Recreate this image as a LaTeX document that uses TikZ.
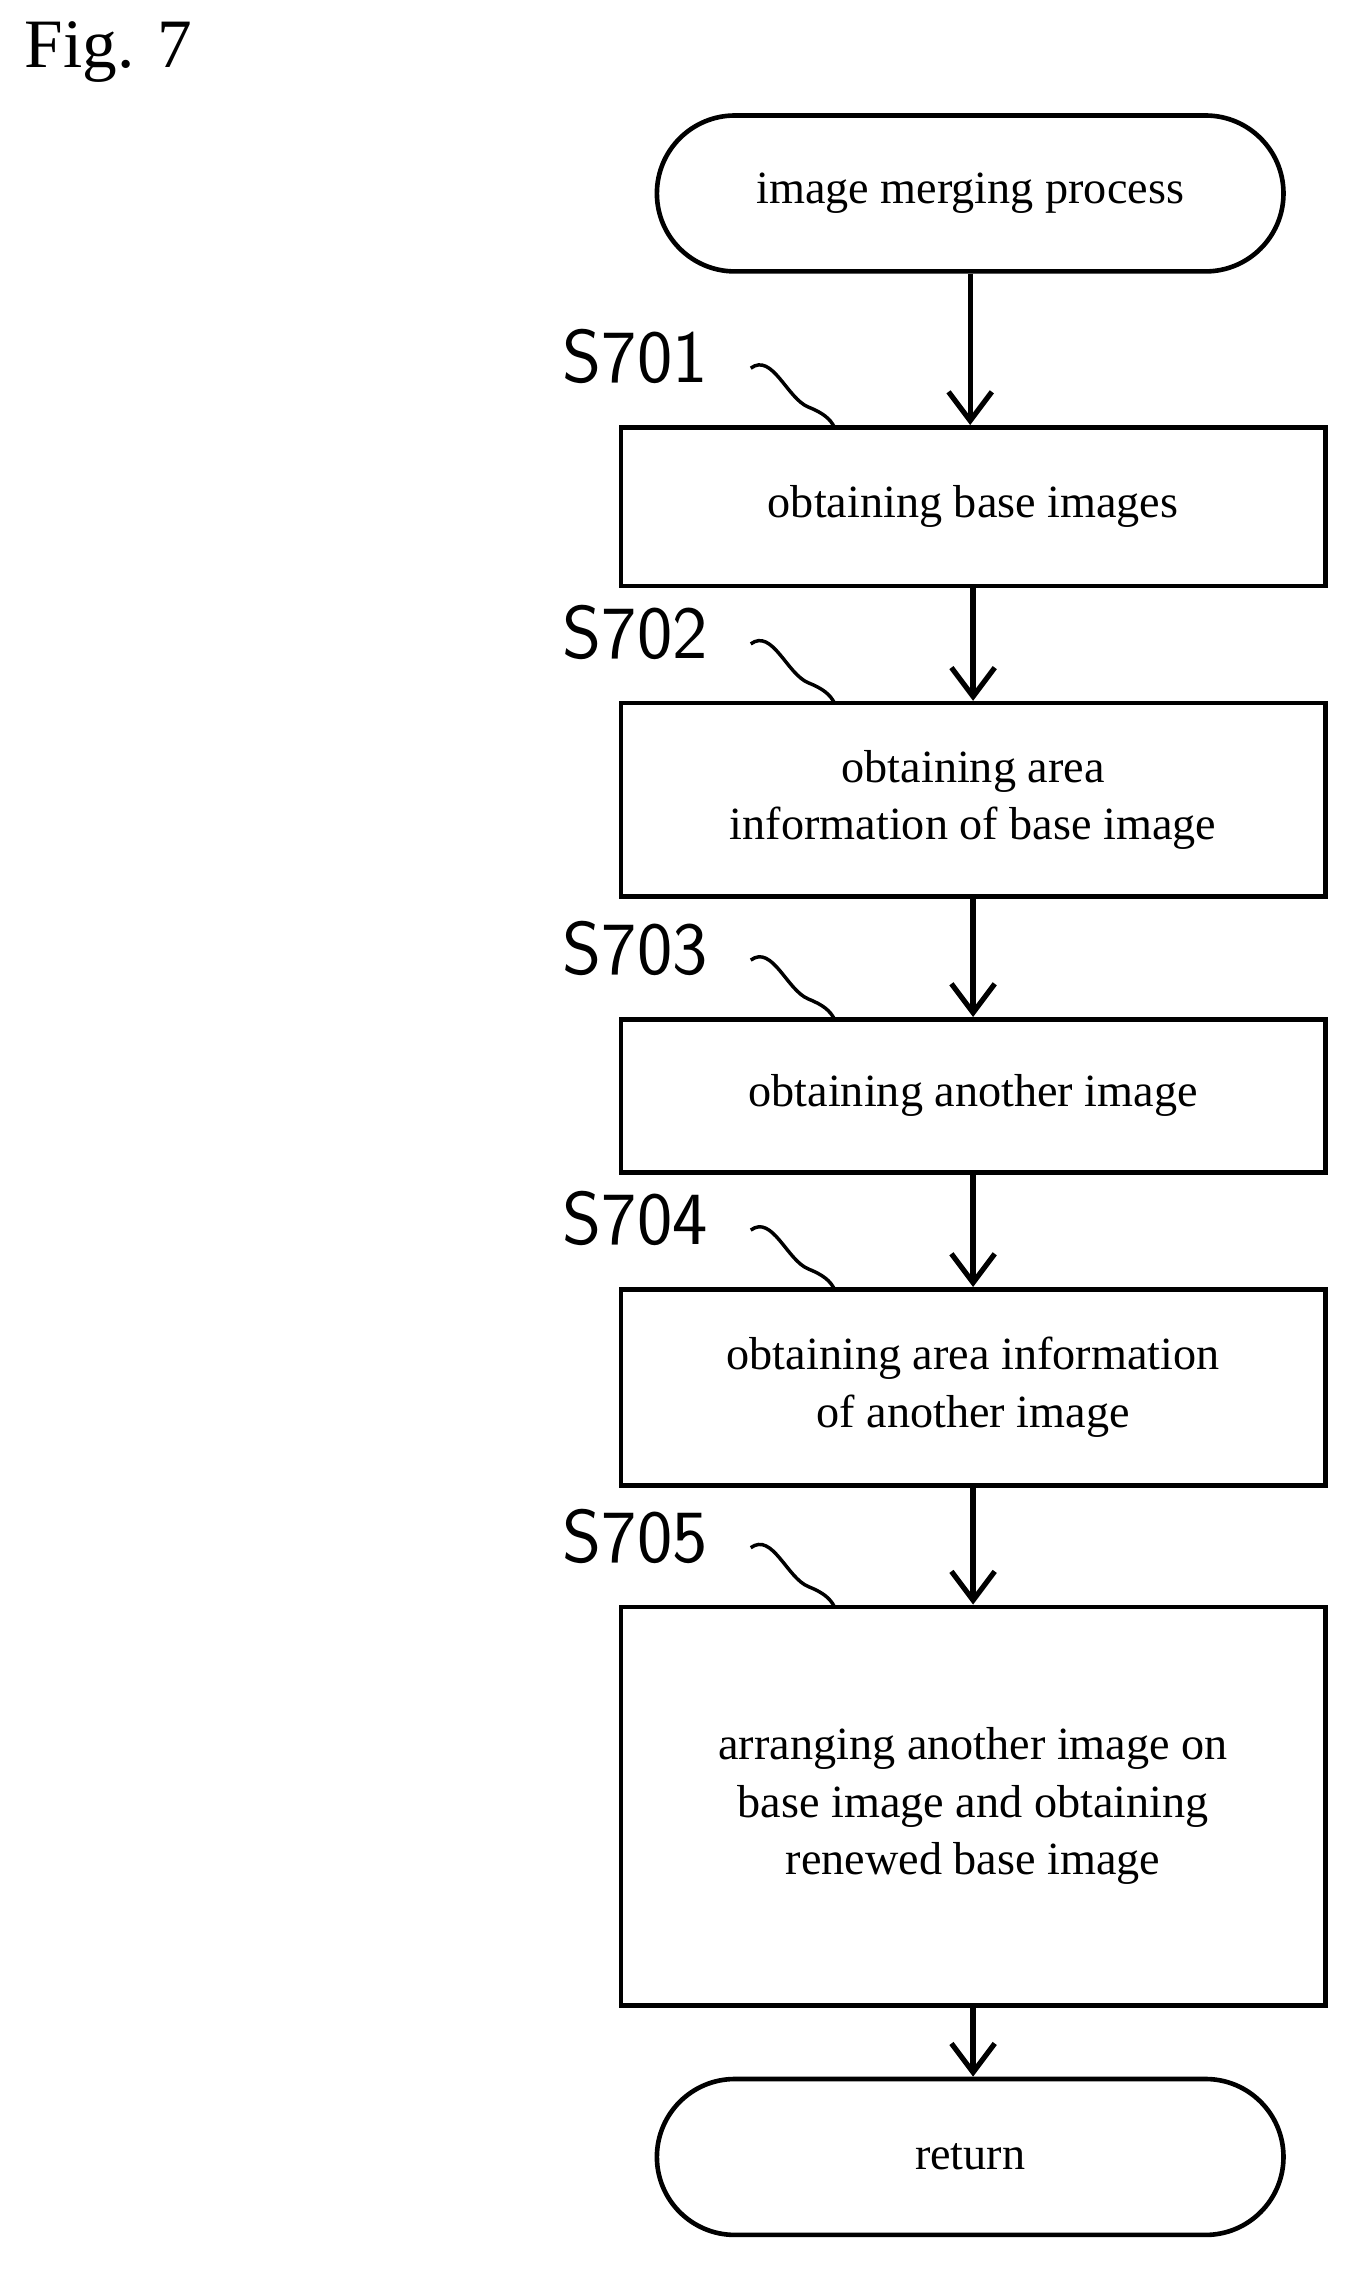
\documentclass[tikz,border=0pt]{standalone}
\usepackage{fontspec}
\setmainfont{Liberation Serif}
\usetikzlibrary{arrows.meta,calc}

\tikzset{
  procbox/.style={draw, line width=1.6pt, minimum width=244pt, fill=white,
    align=center, font=\fontsize{16}{20}\selectfont},
  term/.style={procbox, rounded corners=27pt, minimum width=217pt, minimum height=54pt},
  flow/.style={line width=1.8pt, -{Straight Barb[length=10pt,width=15pt,line width=1.8pt]}},
  stepno/.style={font=\sffamily\fontsize{26}{28}\selectfont},
  tag/.style={line width=1.2pt}
}

\begin{document}
\begin{tikzpicture}[x=0.5pt, y=-0.5pt]
        \useasboundingbox (0,0) rectangle (940,1573);
        \node[anchor=west, font=\fontsize{24}{28}\selectfont] (fig) at (10,36) {Fig. 7};

        \node[term] (start) at (672,134) {image merging process};
        \node[procbox, minimum height=55pt] (s701) at (674,351) {obtaining base images};
        \node[procbox, minimum height=67pt] (s702) at (674,554) {obtaining area\\information of base image};
        \node[procbox, minimum height=53pt] (s703) at (674,759) {obtaining another image};
        \node[procbox, minimum height=68pt] (s704) at (674,961) {obtaining area information\\of another image};
        \node[procbox, minimum height=138pt] (s705) at (674,1251) {arranging another image on\\base image and obtaining\\renewed base image};
        \node[term] (ret) at (672,1494) {return};

        \draw[flow] (start) -- (start |- s701.north);
        \draw[flow] (s701) -- (s701 |- s702.north);
        \draw[flow] (s702) -- (s702 |- s703.north);
        \draw[flow] (s703) -- (s703 |- s704.north);
        \draw[flow] (s704) -- (s704 |- s705.north);
        \draw[flow] (s705) -- (s705 |- ret.north);

        % step numbers with leader squiggles
        \foreach \n/\t in {701/296, 702/487, 703/706, 704/893, 705/1113} {
          \node[stepno] (l\n) at (440,\t-49) {S\n};
          \coordinate (e\n) at (578,\t);
          \draw[tag] (520,\t-41) .. controls (535,\t-52) and (545,\t-20) .. (560,\t-14)
            .. controls (570,\t-10) and (575,\t-6) .. (e\n);
        }
\end{tikzpicture}
\end{document}
